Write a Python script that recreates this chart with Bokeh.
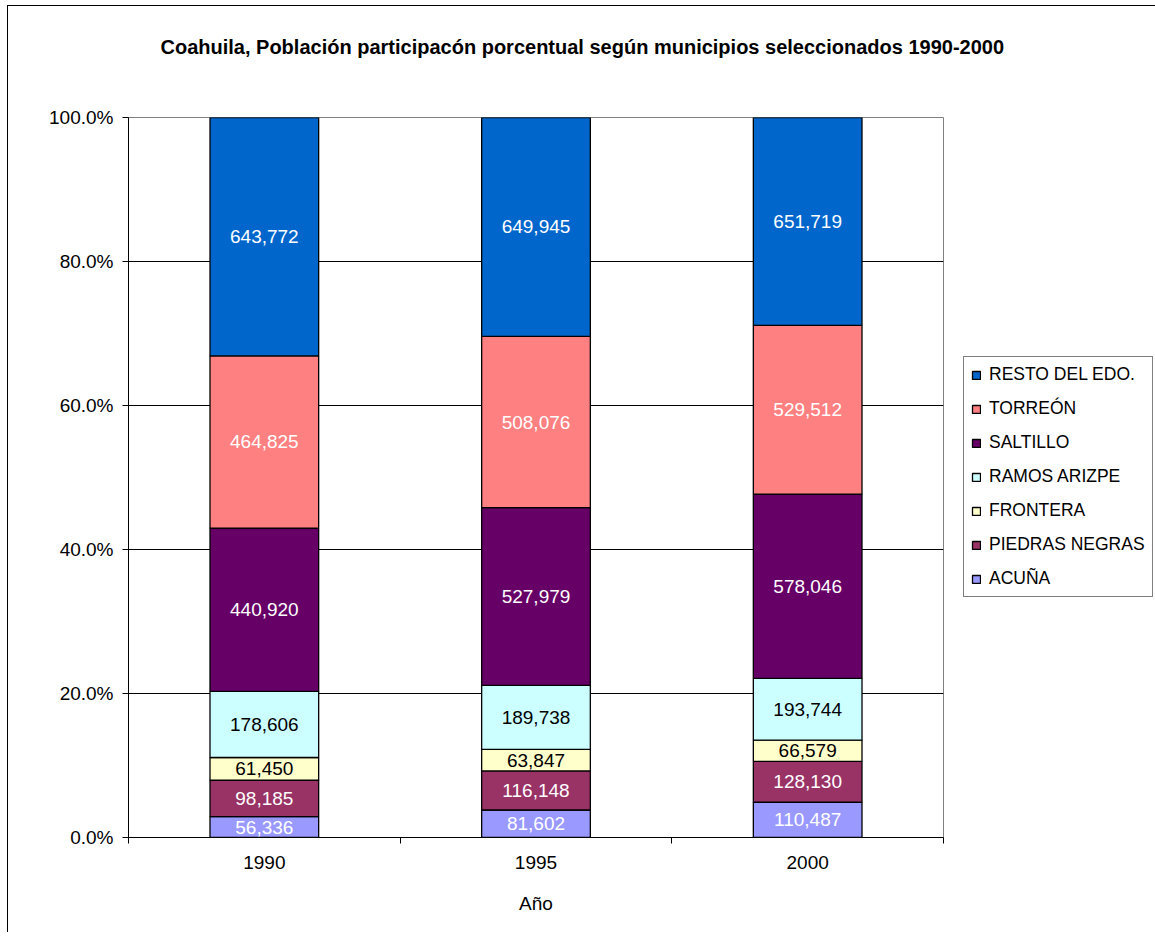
import numpy as np
from bokeh.plotting import figure
from bokeh.models import (ColumnDataSource, Legend, LegendItem, FixedTicker,
                          NumeralTickFormatter)
from bokeh.core.properties import value
from bokeh.embed import file_html
from bokeh.resources import INLINE

# ---------------- data ----------------
years = ["1990", "1995", "2000"]
municipios = ["ACUÑA", "PIEDRAS NEGRAS", "FRONTERA", "RAMOS ARIZPE",
              "SALTILLO", "TORREÓN", "RESTO DEL EDO."]
acuna = [56336, 81602, 110487]
piedras_negras = [98185, 116148, 128130]
frontera = [61450, 63847, 66579]
ramos_arizpe = [178606, 189738, 193744]
saltillo = [440920, 527979, 578046]
torreon = [464825, 508076, 529512]
resto = [643772, 649945, 651719]
y_ticks = [0.0, 0.2, 0.4, 0.6, 0.8, 1.0]

title_text = "Coahuila, Población participacón porcentual según municipios seleccionados 1990-2000"
x_title = "Año"

# ---------------- styles ----------------
colors = ["#9999FF", "#993366", "#FFFFCC", "#CCFFFF", "#660066", "#FF8080", "#0066CC"]
label_colors = ["#FFFFFF", "#FFFFFF", "#000000", "#000000", "#FFFFFF", "#FFFFFF", "#FFFFFF"]
FONT = value("Liberation Sans")

series = [acuna, piedras_negras, frontera, ramos_arizpe, saltillo, torreon, resto]
vals = np.array(series, dtype=float)          # shape (7, 3)
totals = vals.sum(axis=0)
shares = vals / totals
bottoms = np.vstack([np.zeros(len(years)), np.cumsum(shares, axis=0)[:-1]])
mids = bottoms + shares / 2

xs = [i + 0.5 for i in range(len(years))]
data = {"x": xs}
keys = []
for k in range(len(municipios)):
    key = f"s{k}"
    keys.append(key)
    data[key] = list(shares[k])
    data[f"mid{k}"] = list(mids[k])
    data[f"lab{k}"] = [f"{int(v):,}" for v in series[k]]
src = ColumnDataSource(data)

p = figure(frame_width=815, frame_height=720,
           x_range=(0, len(years)), y_range=(0, 1),
           min_border_left=120, min_border_top=111, min_border_right=200, min_border_bottom=95,
           output_backend="svg", toolbar_location=None, tools="")
p.styles = {"border-left": "1px solid #000000", "border-top": "1px solid #000000",
            "margin-left": "7px", "margin-top": "5px"}
p.background_fill_color = "white"
p.border_fill_color = "white"
p.outline_line_color = "#808080"
p.outline_line_width = 1

renderers = p.vbar_stack(keys, x="x", width=0.4, source=src, fill_color=colors,
                         line_color="black", line_width=1.3)

for k in range(len(municipios)):
    p.text(x="x", y=f"mid{k}", text=f"lab{k}", source=src,
           text_align="center", text_baseline="middle",
           text_font=FONT, text_font_size="19px", text_color=label_colors[k])

# title (two blank lines below it keep it high above the plot area)
p.title.text = title_text + "\n \n "
p.title.align = "left"
p.title.offset = 32
p.title.standoff = 32
p.title.text_font = "Liberation Sans"
p.title.text_font_size = "20px"
p.title.text_font_style = "bold"
p.title.text_color = "black"

# grid
p.xgrid.grid_line_color = None
p.ygrid.grid_line_color = "black"
p.ygrid.grid_line_width = 1
p.ygrid.ticker = FixedTicker(ticks=y_ticks)

# y axis
p.yaxis.ticker = FixedTicker(ticks=y_ticks)
p.yaxis.formatter = NumeralTickFormatter(format="0.0%")
p.yaxis.major_tick_in = 0
p.yaxis.major_tick_out = 6
p.yaxis.minor_tick_line_color = None
p.yaxis.major_label_standoff = 9
p.yaxis.major_label_text_font = "Liberation Sans"
p.yaxis.major_label_text_font_size = "19px"
p.yaxis.major_label_text_color = "black"
p.yaxis.axis_line_color = "black"

# x axis
p.xaxis.ticker = FixedTicker(ticks=xs, minor_ticks=list(range(len(years) + 1)))
p.xaxis.major_label_overrides = {x: y for x, y in zip(xs, years)}
p.xaxis.major_tick_line_color = None
p.xaxis.major_tick_in = 0
p.xaxis.major_tick_out = 0
p.xaxis.minor_tick_in = 0
p.xaxis.minor_tick_out = 6
p.xaxis.minor_tick_line_color = "black"
p.xaxis.major_label_standoff = 12
p.xaxis.major_label_text_font = "Liberation Sans"
p.xaxis.major_label_text_font_size = "19px"
p.xaxis.major_label_text_color = "black"
p.xaxis.axis_line_color = "black"
p.xaxis.axis_label = x_title
p.xaxis.axis_label_text_font = "Liberation Sans"
p.xaxis.axis_label_text_font_size = "19px"
p.xaxis.axis_label_text_font_style = "normal"
p.xaxis.axis_label_text_color = "black"
p.xaxis.axis_label_standoff = 21

# legend (reverse order)
items = [LegendItem(label=municipios[k], renderers=[renderers[k]])
         for k in reversed(range(len(municipios)))]
legend = Legend(items=items, location=(20, 240), orientation="vertical",
                border_line_color="black", border_line_width=1,
                background_fill_color="white", background_fill_alpha=1,
                label_text_font="Liberation Sans", label_text_font_size="17.5px",
                label_text_color="black",
                glyph_width=10, glyph_height=10, label_height=20, label_standoff=8,
                spacing=13, padding=7, margin=0)
p.add_layout(legend, "right")

open("out.html", "w").write(file_html(p, INLINE))
